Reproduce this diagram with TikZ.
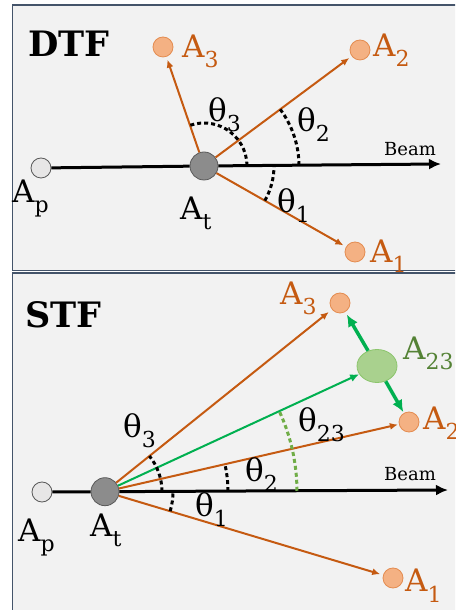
\documentclass[tikz,border=0pt]{standalone}
\usepackage{fontspec}
\setmainfont{DejaVu Serif}
\usetikzlibrary{arrows.meta,angles,shapes.geometric}
\definecolor{PanelClr}{RGB}{242,242,242}
\definecolor{FrameClr}{RGB}{68,84,106}
\definecolor{TrackClr}{RGB}{197,90,17}
\definecolor{DotClr}{RGB}{244,177,131}
\definecolor{DotLineClr}{RGB}{228,140,80}
\definecolor{GreenClr}{RGB}{0,176,80}
\definecolor{LightGreenClr}{RGB}{169,209,142}
\definecolor{EdgeGreenClr}{RGB}{140,197,109}
\definecolor{DashGreenClr}{RGB}{112,173,71}
\definecolor{LabelGreenClr}{RGB}{84,130,53}
\definecolor{ProjClr}{RGB}{231,230,230}
\definecolor{TargClr}{RGB}{140,140,140}
\definecolor{RimClr}{RGB}{89,89,89}

\newcommand\lowidx[1]{\raisebox{-10pt}{\fontsize{22}{22}\selectfont #1}}

\tikzset{
  frame/.style={draw=FrameClr,line width=1.5pt,fill=PanelClr},
  projectile/.style={circle,draw=RimClr,line width=0.8pt,fill=ProjClr,minimum size=20pt,inner sep=0pt},
  target/.style={circle,draw=RimClr,line width=0.8pt,fill=TargClr,minimum size=28pt,inner sep=0pt},
  frag/.style={circle,draw=DotLineClr,line width=0.8pt,fill=DotClr,minimum size=20pt,inner sep=0pt},
  compound/.style={ellipse,draw=EdgeGreenClr,line width=0.8pt,fill=LightGreenClr,minimum width=40pt,minimum height=33pt,inner sep=0pt},
  beam/.style={line width=3pt,black},
  track/.style={line width=2pt,TrackClr,-{Latex[length=8pt,width=7pt]},shorten >=3pt},
  gtrack/.style={line width=2pt,GreenClr,-{Latex[length=9pt,width=8pt]}},
  split/.style={line width=3.5pt,GreenClr,-{Latex[length=12pt,width=11pt]},shorten >=3pt},
  angmark/.style={draw,line width=3pt,dash pattern=on 4pt off 3pt},
  lab/.style={font=\fontsize{31}{31}\selectfont,inner sep=0pt,anchor=base west},
  title/.style={font=\fontsize{35}{35}\selectfont\bfseries,inner sep=0pt,anchor=base west},
  beamlab/.style={font=\fontsize{18}{18}\selectfont,inner sep=0pt,anchor=base west}
}

\begin{document}
\begin{tikzpicture}[x=1pt,y=1pt]
\useasboundingbox (0,0) rectangle (455,610);
\clip (0,0) rectangle (455,610);

\draw[frame] (12.5,339.5) rectangle (470,605);
\draw[frame] (12.5,-10) rectangle (470,337);

% DTF
\node[projectile] (Ap1) at (41,442) {};
\node[target] (At1) at (204,444) {};
\node[frag] (A1a) at (355,358) {};
\node[frag] (A2a) at (360,560) {};
\node[frag] (A3a) at (163,563) {};
\coordinate (Be1) at (441,446);

\draw[beam] (Ap1) -- (At1);
\draw[beam,-{Latex[length=12pt,width=11pt]}] (At1) -- (Be1);
\draw[track] (At1) -- (A1a);
\draw[track] (At1) -- (A2a);
\draw[track] (At1) -- (A3a);

\path pic[angmark,angle radius=70pt] {angle=A1a--At1--Be1};
\path pic[angmark,angle radius=95pt] {angle=Be1--At1--A2a};
\path pic[angmark,angle radius=43pt] {angle=Be1--At1--A3a};

\node[title] (dtf) at (28,553) {DTF};
\node[beamlab] (beam1) at (384,454) {Beam};
\node[lab] (lAp1) at (12,407) {A\lowidx{p}};
\node[lab] (lAt1) at (180,390) {A\lowidx{t}};
\node[lab,TrackClr] (lA1a) at (370,347) {A\lowidx{1}};
\node[lab,TrackClr] (lA2a) at (373,553) {A\lowidx{2}};
\node[lab,TrackClr] (lA3a) at (182,552) {A\lowidx{3}};
\node[lab] (th1a) at (277,397) {θ\lowidx{1}};
\node[lab] (th2a) at (297,478) {θ\lowidx{2}};
\node[lab] (th3a) at (208,488) {θ\lowidx{3}};

% STF
\node[projectile] (Ap2) at (42,118) {};
\node[target] (At2) at (105,118.3) {};
\node[frag] (A1b) at (393,32) {};
\node[frag] (A2b) at (409,188) {};
\node[frag] (A3b) at (340,307) {};
\node[compound] (A23) at (377,244) {};
\coordinate (Be2) at (448,120);

\draw[beam] (Ap2) -- (At2);
\draw[beam,-{Latex[length=12pt,width=11pt]}] (At2) -- (Be2);
\draw[track] (At2) -- (A1b);
\draw[track,shorten >=1pt] (At2) -- (A2b);
\draw[track,shorten >=4pt] (At2) -- (A3b);
\draw[gtrack] (At2) -- (A23);
\draw[split] (A23) -- (A3b);
\draw[split,shorten >=1pt] (A23) -- (A2b);

\path pic[angmark,angle radius=68pt] {angle=A1b--At2--Be2};
\path pic[angmark,angle radius=123pt] {angle=Be2--At2--A2b};
\path pic[angmark,angle radius=57pt] {angle=Be2--At2--A3b};
\path pic[angmark,DashGreenClr,angle radius=192pt] {angle=Be2--At2--A23};

\node[title] (stf) at (25,282) {STF};
\node[beamlab] (beam2) at (384,129) {Beam};
\node[lab] (lAp2) at (18,68) {A\lowidx{p}};
\node[lab] (lAt2) at (90,73) {A\lowidx{t}};
\node[lab,TrackClr] (lA1b) at (405,18) {A\lowidx{1}};
\node[lab,TrackClr] (lA2b) at (423,180) {A\lowidx{2}};
\node[lab,TrackClr] (lA3b) at (280,305) {A\lowidx{3}};
\node[lab,LabelGreenClr] (lA23) at (403,250) {A\lowidx{23}};
\node[lab] (th1b) at (195,93) {θ\lowidx{1}};
\node[lab] (th2b) at (245,128) {θ\lowidx{2}};
\node[lab] (th3b) at (123,172) {θ\lowidx{3}};
\node[lab] (th23) at (298,178) {θ\lowidx{23}};

\end{tikzpicture}
\end{document}
